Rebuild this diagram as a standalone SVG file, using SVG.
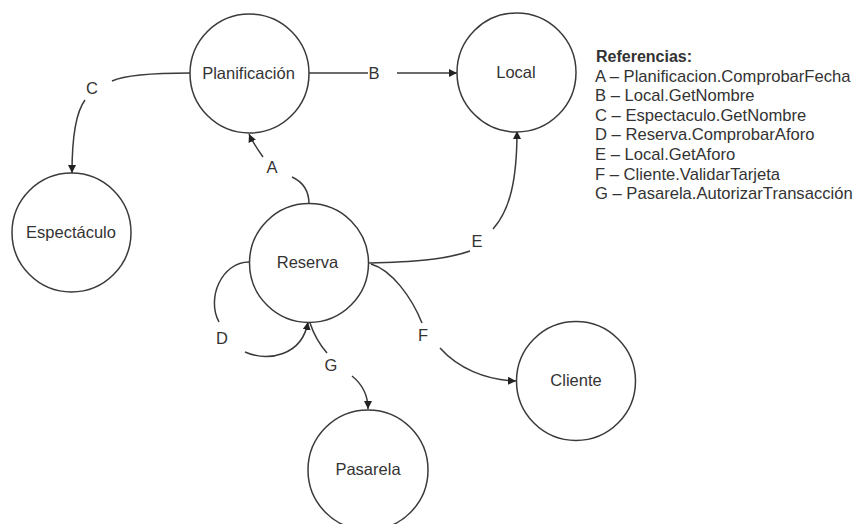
<svg xmlns="http://www.w3.org/2000/svg" width="856" height="524" viewBox="0 0 856 524">
<style>
.node{fill:#fff;stroke:#3a3a3a;stroke-width:1.5}
.lbl{font-family:"Liberation Sans",Arial,sans-serif;font-size:16.5px;fill:#333;text-anchor:middle}
.edge{fill:none;stroke:#3a3a3a;stroke-width:1.5}
.elbl{font-family:"Liberation Sans",Arial,sans-serif;font-size:16.5px;fill:#333;text-anchor:middle}
.leg{font-family:"Liberation Sans",Arial,sans-serif;font-size:16.6px;fill:#333}
.legh{font-weight:bold;font-size:16px}
</style>
<defs>
<marker id="arr" viewBox="0 0 10 10" refX="10" refY="5" markerWidth="8" markerHeight="8" markerUnits="userSpaceOnUse" orient="auto">
<path d="M0,0 L10,5 L0,10 Z" fill="#222"/>
</marker>
</defs>
<rect width="856" height="524" fill="#fff"/>
<g id="connectors">
<g id="edge-A"><path class="edge" d="M309,204 C309,190 303,182 292,177"/><path class="edge" d="M263,157 C258,150 253,143 249,134" marker-end="url(#arr)"/><text class="elbl" x="272" y="173">A</text></g>
<g id="edge-B"><path class="edge" d="M309,73 H368"/><path class="edge" d="M397,73 H457" marker-end="url(#arr)"/><text class="elbl" x="374" y="79">B</text></g>
<g id="edge-C"><path class="edge" d="M190,73 C150,73 125,75 112,81"/><path class="edge" d="M85,100 C76,112 72,140 72,173" marker-end="url(#arr)"/><text class="elbl" x="92" y="94">C</text></g>
<g id="edge-D"><path class="edge" d="M249,262 C222,262 206,298 219,322"/><path class="edge" d="M245,352 C268,362 302,356 308,322" marker-end="url(#arr)"/><text class="elbl" x="222" y="344">D</text></g>
<g id="edge-E"><path class="edge" d="M369,263 C410,262 445,260 470,251"/><path class="edge" d="M493,229 C510,210 517,180 517,131" marker-end="url(#arr)"/><text class="elbl" x="477" y="247">E</text></g>
<g id="edge-F"><path class="edge" d="M371,264 C392,270 412,298 422,323"/><path class="edge" d="M440,348 C458,368 485,380 516,381" marker-end="url(#arr)"/><text class="elbl" x="423" y="341">F</text></g>
<g id="edge-G"><path class="edge" d="M310,323 C314,335 320,345 327,353"/><path class="edge" d="M352,376 C362,384 368,395 368,409" marker-end="url(#arr)"/><text class="elbl" x="331" y="371">G</text></g>
</g>
<g id="node-planificacion"><circle class="node" cx="249.5" cy="73.5" r="59.5"/><text class="lbl" x="248.5" y="79">Planificación</text></g>
<g id="node-local"><circle class="node" cx="516.5" cy="72.5" r="59.5"/><text class="lbl" x="516" y="78">Local</text></g>
<g id="node-espectaculo"><circle class="node" cx="71.5" cy="232.5" r="59.5"/><text class="lbl" x="71" y="238">Espectáculo</text></g>
<g id="node-reserva"><circle class="node" cx="309" cy="263" r="59.5"/><text class="lbl" x="307.5" y="268">Reserva</text></g>
<g id="node-cliente"><circle class="node" cx="576" cy="381" r="59.5"/><text class="lbl" x="576" y="386">Cliente</text></g>
<g id="node-pasarela"><circle class="node" cx="368" cy="470" r="60"/><text class="lbl" x="368" y="475">Pasarela</text></g>
<g id="legend">
<text class="leg legh" x="596" y="62">Referencias:</text>
<text class="leg" x="595" y="81.6">A – Planificacion.ComprobarFecha</text>
<text class="leg" x="595" y="101.2">B – Local.GetNombre</text>
<text class="leg" x="595" y="120.8">C – Espectaculo.GetNombre</text>
<text class="leg" x="595" y="140.4">D – Reserva.ComprobarAforo</text>
<text class="leg" x="595" y="160">E – Local.GetAforo</text>
<text class="leg" x="595" y="179.6">F – Cliente.ValidarTarjeta</text>
<text class="leg" x="595" y="199.2">G – Pasarela.AutorizarTransacción</text>
</g>
</svg>
